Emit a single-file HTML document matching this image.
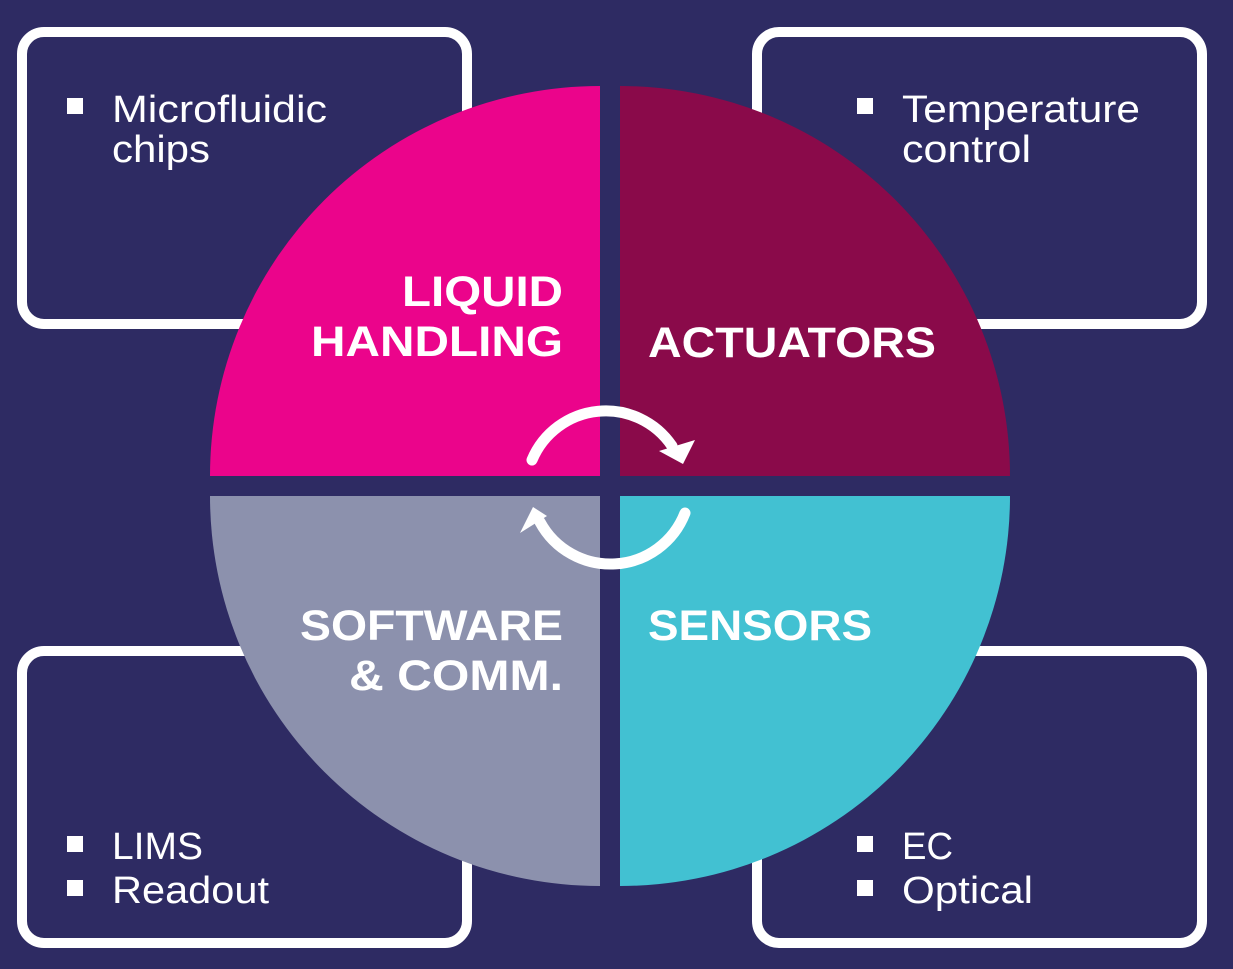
<!DOCTYPE html>
<html><head><style>
html,body{margin:0;padding:0;background:#2e2b63;}
svg{display:block}
text{font-family:"Liberation Sans",sans-serif;fill:#fff}
.b{font-weight:bold;font-size:43px}
.r{font-size:38px}
</style></head><body>
<svg width="1233" height="969" viewBox="0 0 1233 969">
<rect width="1233" height="969" fill="#2e2b63"/>
<g fill="none" stroke="#fff" stroke-width="10">
<rect x="22" y="32" width="445" height="292" rx="22"/>
<rect x="757" y="32" width="445" height="292" rx="22"/>
<rect x="22" y="651" width="445" height="292" rx="22"/>
<rect x="757" y="651" width="445" height="292" rx="22"/>
</g>
<path d="M600 476 L210 476 A390 390 0 0 1 600 86 Z" fill="#eb048b"/>
<path d="M620 476 L1010 476 A390 390 0 0 0 620 86 Z" fill="#8a0a4a"/>
<path d="M600 496 L210 496 A390 390 0 0 0 600 886 Z" fill="#8c91ad"/>
<path d="M620 496 L1010 496 A390 390 0 0 1 620 886 Z" fill="#42c1d2"/>
<g fill="none" stroke="#fff" stroke-width="11" stroke-linecap="round">
<path d="M532 460 A80 80 0 0 1 672 446"/>
<path d="M685 513 A80 80 0 0 1 540 522"/>
</g>
<polygon points="659,451 695,440 683,464" fill="#fff"/>
<polygon points="520,533 533,507 547,516" fill="#fff"/>
<g lengthAdjust="spacingAndGlyphs">
<text class="b" x="402" y="306" textLength="161" lengthAdjust="spacingAndGlyphs">LIQUID</text>
<text class="b" x="311" y="356" textLength="252" lengthAdjust="spacingAndGlyphs">HANDLING</text>
<text class="b" x="648" y="357" textLength="288" lengthAdjust="spacingAndGlyphs">ACTUATORS</text>
<text class="b" x="300" y="640" textLength="263" lengthAdjust="spacingAndGlyphs">SOFTWARE</text>
<text class="b" x="349" y="690" textLength="214" lengthAdjust="spacingAndGlyphs">&amp; COMM.</text>
<text class="b" x="648" y="640" textLength="224" lengthAdjust="spacingAndGlyphs">SENSORS</text>
</g>
<g fill="#fff">
<rect x="67" y="98" width="16" height="16"/>
<rect x="857" y="98" width="16" height="16"/>
<rect x="67" y="836" width="16" height="16"/>
<rect x="67" y="880" width="16" height="16"/>
<rect x="857" y="836" width="16" height="16"/>
<rect x="857" y="880" width="16" height="16"/>
</g>
<text class="r" x="112" y="122" textLength="215" lengthAdjust="spacingAndGlyphs">Microfluidic</text>
<text class="r" x="112" y="162" textLength="98" lengthAdjust="spacingAndGlyphs">chips</text>
<text class="r" x="902" y="122" textLength="238" lengthAdjust="spacingAndGlyphs">Temperature</text>
<text class="r" x="902" y="162" textLength="129" lengthAdjust="spacingAndGlyphs">control</text>
<text class="r" x="112" y="859" textLength="91" lengthAdjust="spacingAndGlyphs">LIMS</text>
<text class="r" x="112" y="903" textLength="157" lengthAdjust="spacingAndGlyphs">Readout</text>
<text class="r" x="902" y="859" textLength="51" lengthAdjust="spacingAndGlyphs">EC</text>
<text class="r" x="902" y="903" textLength="131" lengthAdjust="spacingAndGlyphs">Optical</text>
</svg>
</body></html>
